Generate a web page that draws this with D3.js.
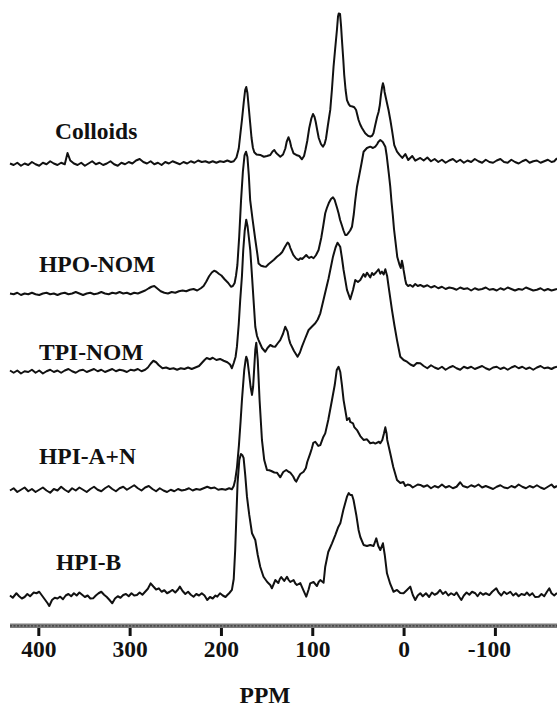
<!DOCTYPE html>
<html>
<head>
<meta charset="utf-8">
<script src="https://cdn.jsdelivr.net/npm/d3@7"></script>
<style>
  html, body { margin: 0; padding: 0; background: #fff; }
  svg { display: block; }
</style>
</head>
<body>
<svg id="chart" width="557" height="707"></svg>
<script>
// Stacked 13C NMR spectra: chemical shift (ppm) vs. relative intensity (a.u.)

const sampleNames = ["Colloids", "HPO-NOM", "TPI-NOM", "HPI-A+N", "HPI-B"];
const tickValues = [400, 300, 200, 100, 0, -100];
const axisTitle = "PPM";

const colloids = [
  [431,-1],[427,-2],[423,-0.5],[419,-2.5],[415,-1],[411,-2],[407,0],[403,-1.5],[399,-2.5],[395,-0.5],
  [391,-1.5],[387,0.5],[383,-1],[379,-2],[375,-0.5],[371,-1.5],[368,6],[365,1],[361,-1],[357,-2],
  [353,-0.5],[349,-2.5],[345,-1],[341,0.5],[337,-1.5],[333,-0.5],[329,-2],[325,-1],[321,0.5],[317,-1.5],
  [313,-2.5],[309,-0.5],[305,-1.5],[301,0],[297,-1],[293,1],[289,2],[285,0],[281,-1],[277,0.5],
  [273,-1.5],[269,-0.5],[265,-2],[261,0],[257,-1],[253,0.5],[249,-0.5],[245,-1.5],[241,0],[237,-1],
  [233,0.5],[229,-0.5],[225,1],[221,0],[217,0.5],[213,-0.5],[209,0.5],[205,-0.5],[201,0.5],[197,0],
  [193,1],[189,0],[186,0.5],
  [183,3],[180.5,9],[178.5,20],[177,28],[175,40],[173.5,48],[172.3,50],[171,46],[169.5,36],[168,26],
  [166.5,16],[165,9.5],[163.5,6.5],[161,5],[157,4.7],[153,3.5],[149.6,4],[146,4.7],[143.5,7],[141.6,8],
  [139.5,6],[138.3,5.3],[135,3.5],[132,5],[129.5,9],[128,13.5],[126,16.5],[124.5,14],[123,10],[120.5,5.8],
  [117.5,4.7],[114.2,4],[111.3,1.8],[109,4],[107.5,8],[105.5,14],[103.3,22.7],[101,29],[99.2,32],[97.5,30],
  [96.2,26.7],[94.5,21],[92.9,16],[90.5,12],[88.3,10.2],[86.5,12],[85,15.5],[83,24],[81.5,30],[80.3,34.7],
  [78.5,48],[76.7,63.5],[75,75],[73,88],[71.8,97],[71,99],[69.6,98.7],[68.5,91],[67.5,81.3],[66,68],
  [65,58],[63.5,48],[62,41.3],[60,38.5],[58.4,37.3],[56,37],[54,36.5],[52,34.7],[49.3,28],[47.5,25],
  [45.6,22.7],[42,19.1],[39,17.5],[36.5,16.9],[34.5,17.5],[33,19.1],[31,24.7],[29,30],[27.4,33.3],[26,38],
  [24.8,44.7],[23.5,50],[22.6,52.5],[21.5,50],[20.8,46.7],[18.2,39.3],[16.5,34.7],[14.5,28],[12.7,21.3],[10.2,11.3],
  [7.2,6.9],[4.4,4.7],[1.4,2.7],[-1.9,5.3],[-5.1,1.3],[-9.5,4],[-12.8,0.9],[-18.3,2.7],
  [-22,1],[-26,3],[-30,0.5],[-34,2],[-38,0],[-42,1.5],[-46,-0.5],[-50,1],[-54,2],[-58,0],
  [-62,1.5],[-66,-0.5],[-70,1],[-74,0],[-78,2],[-82,0.5],[-86,-0.5],[-90,1.5],[-94,0],[-98,-0.5],
  [-102,1],[-106,2],[-110,0],[-114,-0.5],[-118,1.5],[-122,0],[-126,-1],[-130,0.5],[-134,1.5],[-138,-0.5],
  [-142,0.5],[-146,1],[-150,-0.5],[-154,0.5],[-158,1.5],[-162,0],[-165,0.5],[-168,2.5]
];

const hpoNom = [
  [431,-3],[427,-3.5],[423,-2.5],[419,-4],[415,-3],[411,-3.5],[407,-2.5],[403,-3.5],[399,-4],[395,-3],
  [391,-2.5],[387,-3.5],[383,-3],[379,-4],[375,-3],[371,-2.5],[367,-3.5],[363,-3],[359,-2],[355,-3],
  [351,-4],[347,-3],[343,-2.5],[339,-3.5],[335,-3],[331,-2],[327,-3],[323,-3.5],[319,-2.5],[315,-3],
  [311,-2],[307,-3],[303,-2.5],[299,-3.5],[295,-2.5],[291,-3],[287,-2],[283,-1],[279,0.5],[276,1.5],
  [273,2],[270,0.5],[266,-1.5],[262,-2.5],[258,-3],[254,-2],[250,-2.5],[246,-1.5],[242,-1],[238,-1.5],
  [234,-0.5],[230,0],[226,-1],[222,0.5],[219,2],[216,5],[213,8.5],[210,11],[207.5,12.2],[205,11.5],
  [202,10],[199.5,9],[196,6.5],[192,4],[189,1.5],[187,2],
  [185,4],[183.5,9],[182,16],[180,35],[178,59],[176,78],[174.2,89],[172.5,91.5],[171,88],[169.5,76],
  [168,59.3],[165.5,47],[162.4,33],[160,22.7],[158.8,17],[156,15.5],[153,15],[150.5,14.9],[148,16.5],[145,18],
  [142,19.5],[138.7,21.5],[135.5,23],[132.9,24.7],[130,28],[127,31],[125.5,30],[124,27.3],[120.8,22.7],[118,20.5],
  [115,19.3],[113,20.5],[111,20],[108.5,21.5],[106.6,22.7],[105,21.5],[103.3,20.7],[101,21.5],[98.6,20.5],[96,22.5],
  [93.1,26],[90.2,34],[88,42],[85.8,50.5],[84,54],[81.9,57.3],[79.5,60],[77.3,61.1],[75.5,59.5],[74.8,58],
  [72.8,54],[71.2,50.5],[69.5,46],[67.7,42.7],[65.8,39],[63.9,36],[62.2,36],[60.6,37.3],[58.5,39],[56.5,41.5],
  [54.5,50],[52.9,59.3],[51,68.2],[48.5,76],[46,84],[43.8,91.5],[40.1,94],[36.5,94.9],[33.5,94],[31,94.9],
  [29,96.5],[27.7,98],[25.5,99.3],[22.8,98],[20,94.9],[18.5,89],[17.3,82.7],[16,76],[14.6,68.2],[13.2,58],
  [11.8,49.3],[10.5,40],[9.1,32.7],[6.9,21.3],[4.4,16],[3.1,14],[1.8,18.9],[0.5,15],[0,12.7],[-1.9,6],
  [-2.9,3.3],[-5,2],[-7.3,2.7],[-10,1.5],[-12.8,3.3],[-15.5,2],[-18.3,2.7],
  [-22,1.5],[-26,2.5],[-30,1],[-34,2],[-38,0.5],[-42,1.5],[-46,0],[-50,1],[-54,0.5],[-58,-0.5],
  [-62,1],[-66,0],[-70,0.5],[-74,-1],[-78,0.5],[-82,-0.5],[-86,0],[-90,1],[-94,-0.5],[-98,0],
  [-102,-1],[-106,0.5],[-110,-0.5],[-114,1],[-118,0],[-122,-1],[-126,0],[-130,-0.5],[-134,1],[-138,0],
  [-142,-1],[-146,-0.5],[-150,0.5],[-154,-1],[-158,0],[-162,-1],[-165,-0.5],[-168,0]
];

const tpiNom = [
  [431,-3],[427,-4.5],[423,-3],[419,-5],[415,-3.5],[411,-4],[407,-2.5],[403,-4.5],[399,-3],[395,-5],
  [391,-3.5],[387,-2.5],[383,-4],[379,-3],[375,-4.5],[371,-3],[367,-2],[363,-3.5],[359,-4.5],[355,-3],
  [351,-2.5],[347,-4],[343,-3],[339,-2],[335,-3.5],[331,-2.5],[327,-4],[323,-3],[319,-2],[315,-3.5],
  [311,-2.5],[307,-3],[303,-4],[299,-2.5],[295,-3],[291,-2],[287,-3.5],[283,-2.5],[280,-1],[277,1.5],
  [274,3.5],[271,2.5],[268,0.5],[264,-1.5],[260,-1],[256,-2],[252,-1.5],[248,-2.5],[244,-1.5],[240,-2],
  [236,-1],[232,-2],[228,-1],[224,0],[221,2],[218,4],[215.6,5.3],[212,4.5],[209,5.5],[205,4],
  [201,4.7],[197,3.5],[193,2.5],[190,1],[188,-1.5],[186,2],
  [184,6],[182.5,12.9],[180.5,28],[178.9,44],[177,60],[175.6,77],[174,90],[172.3,97.5],[170.8,93],[169.5,86],
  [167.9,77.3],[166,60],[164.3,44],[162.4,26.2],[160.5,20],[158.8,17.3],[155,12],[151.5,9.5],[149,12],[146,14],
  [143,13],[140.5,12.9],[138,15],[135.1,17.3],[132,21.5],[129.6,26.2],[127,22.9],[125.5,18],[124.1,15.1],[120,10],
  [116.1,6.2],[113.5,9],[111.3,12.9],[108,18],[104,24],[100,26.5],[96.7,28.5],[94,31],[91.2,35.1],[86.9,46.2],
  [82.1,58.5],[77.3,72.9],[74.5,79],[72.3,82.2],[69.4,79.5],[67.5,72],[65.7,64],[62,50.7],[58.4,44.5],[55.4,50.7],
  [52.9,57.3],[50,56],[47.4,57.3],[43.8,61.3],[42,59.5],[40.1,62.2],[36.5,59.1],[34.5,62],[32.9,60.7],[30,62.5],
  [27.4,64.5],[25.5,61.5],[23.7,62.9],[21.8,61],[20,64.5],[18,60],[16.4,52.9],[12.7,37.3],[10,27],[7.2,17.3],
  [3.6,6.2],[0,4],[-3.7,2.9],[-7.5,1],[-11,0],[-14.5,2],[-18.3,1.8],
  [-22,0],[-26,-1.5],[-30,0.5],[-34,-1],[-38,-2],[-42,-0.5],[-46,-2.5],[-50,-1],[-54,0],[-58,-1.5],
  [-62,-2.5],[-66,-0.5],[-70,-1.5],[-74,-0.5],[-78,-2],[-82,-1],[-86,0],[-90,-1.5],[-94,-2.5],[-98,-1],
  [-102,-0.5],[-106,-2],[-110,-1],[-114,-2.5],[-118,-1],[-122,0],[-126,-1.5],[-130,-0.5],[-134,-2],[-138,-1],
  [-142,-2.5],[-146,-1],[-150,0],[-154,-1.5],[-158,-1],[-162,-2],[-165,-1],[-168,-0.5]
];

const hpiAN = [
  [431,-1],[427,0.5],[423,-2],[419,-0.5],[415,1],[411,-1.5],[407,0],[403,-2],[399,-0.5],[395,1],
  [391,-1],[387,-2.5],[383,0],[379,-1],[375,1.5],[371,-0.5],[367,-2],[363,0.5],[359,-1],[355,1],
  [351,-0.5],[347,-2],[343,0],[339,1.5],[335,-0.5],[331,-1.5],[327,0.5],[323,2],[319,0],[315,-1.5],
  [311,0.5],[307,1.5],[303,-0.5],[299,1],[295,2.5],[291,0.5],[287,-1],[283,1],[279,2],[275,0],
  [271,-1.5],[267,0.5],[263,-1],[259,-2],[255,-0.5],[251,-1.5],[247,0],[243,-1],[239,-0.5],[235,0.5],
  [231,-1],[227,0],[223,-0.5],[219,0.5],[215,1.5],[211,0.5],[207,1],[203,-0.5],[199,0],[195,-0.5],
  [191,0.5],[188,-0.2],[186,2],
  [184.4,6],[182.5,14],[180.3,29.3],[178.5,45],[177,59.3],[174.5,79.3],[173,86],[172.3,88.2],[171,86],[169,76],
  [167.5,68],[166,62.7],[164.8,68],[164,76],[162.4,92.7],[161.3,97.5],[159.7,86],[157.7,59.3],[155.1,32.7],[152.6,19.3],
  [149.6,12.7],[147,12.5],[144.9,12],[141.5,11],[138.7,10.9],[135,7.8],[131.8,11.3],[128.5,12.7],[126,11.5],[124.1,10.9],
  [121,8.5],[119,6],[117.5,4.9],[115,8],[113.1,10],[109.5,11.5],[107,14],[105.5,18],[102.2,23.8],[100.5,27],
  [98.9,30.7],[96.7,31.5],[93.4,28.7],[91.2,29.3],[87.9,34.7],[85.8,37.1],[82.5,46],[78.4,59.3],[75.4,69.3],[73.2,79.3],
  [71.2,81.5],[69.3,78],[67.5,69.3],[65.7,59.3],[62,46],[59.5,47.3],[58.4,44.7],[55.4,43.8],[54,41.3],[51,39.3],
  [47.4,35.3],[43.8,32.7],[40.1,33.1],[36.5,30.5],[33,31],[31,30.3],[27,31.5],[25.5,30.5],[23.3,32.7],[21.5,37],
  [20,41.1],[18.6,37],[17.9,32.7],[14.6,23.8],[11.3,14.7],[7.2,6],[3.6,4],[0.3,4.7],[-1.9,2],[-4.5,3],
  [-7.3,2.5],[-10,1],[-12.8,2],[-15.5,3],[-18.3,2.7],
  [-22,1.5],[-26,2.5],[-30,0.5],[-34,2],[-38,1],[-42,3],[-46,1],[-50,2],[-54,0.5],[-58,1.5],
  [-62,4.5],[-65,2],[-70,1],[-74,2.5],[-78,1.5],[-82,3],[-86,1],[-90,2],[-94,1],[-98,0],
  [-102,1.5],[-106,2.5],[-110,1],[-114,0.5],[-118,2],[-122,1],[-126,3],[-130,1.5],[-134,0.5],[-138,2],
  [-142,1],[-146,2.5],[-150,1],[-154,0],[-158,1.5],[-162,3],[-165,1],[-168,2]
];

const hpiB = [
  [431,-1],[428,-2.5],[424,0.5],[421,-1.5],[418,-3],[415,-2],[412,0],[409,-1.5],[405,1],[402,0.5],
  [399,1.5],[396,-1],[393,-3.5],[390,-6],[388,-8],[385,-4],[382,-2.5],[379,-3],[376,-1.8],[373,-3.5],
  [370,-1],[367,0],[364,-1.5],[361,0.5],[358,-1],[355,1],[352,-0.5],[349,-2],[346,-1],[343,-3],
  [340,-2.9],[337,-1],[334,0.5],[331,1.5],[328,-0.5],[325,-2],[322,-4],[319,-6.2],[316,-3],[313,-1.5],
  [310,-2.5],[307,-0.7],[304,0],[301,-1.5],[298,0.5],[295,-1],[292,-0.7],[289,1],[286,-0.5],[283,1.5],
  [280,3.5],[277,7.1],[274,5],[271,3],[268,3.8],[265,1.5],[262,2.5],[259,0.5],[256,1.5],[253,2.7],
  [250,1],[247,3],[245,4.9],[242,2],[239,0],[236,1.5],[233,-0.5],[230,-1.8],[227,0],[224,-1],
  [221,0.5],[218,-1],[215,-4],[212,-2],[209,-3],[206,-1],[204,-1.8],[201,0.5],[198,-1],[195,-2],
  [193,-0.7],[191,0.5],[188,2.7],[186,10],
  [184.4,29.3],[181.8,74],[179.9,89.3],[178.1,93.3],[176.7,92.7],[175.2,90.7],[173.4,79.3],[171.5,64.9],[169,52.7],[166,40.5],
  [164,38],[162.4,36],[159.7,26],[157,18.2],[153.4,11.5],[149.3,8],[146,6],[144.2,3.8],[142,7],[140.5,9.3],
  [137.2,7.3],[135.5,10],[134,11.3],[130.7,8.7],[127.7,11.5],[126,9.5],[124.1,8],[120.5,9.3],[118.5,7],[116.8,6],
  [113.1,7.3],[109.9,2.7],[106.6,-1.8],[104,3],[102.2,7.1],[98.6,8],[94.9,5.3],[93,8],[91.2,9.3],[87.6,7.5],
  [85.8,18.2],[82.5,28],[78.4,33.8],[74.8,39.3],[71.5,44.7],[69.3,47.1],[66,56],[62,64.9],[60,67.3],[58.4,66],
  [56.5,66],[54.8,62.7],[51.8,52.7],[49.3,42.7],[47.4,38],[43.8,32.7],[40.1,32],[36.5,32.7],[32.9,32],[29.9,37.1],
  [27.7,32],[25.5,29.3],[22.6,33.8],[20.6,26],[18.2,13.8],[14.6,6.7],[11,1.5],[7.2,2.7],[3.6,0.7],[0,0.5],
  [-3.7,2.7],[-7.3,4.9],[-10.1,-0.7],[-12.8,-4],[-15.5,-1],[-18.3,0.5],
  [-21,-1.5],[-24.5,0.5],[-28,-2],[-31,1],[-34,-0.5],[-37,0.5],[-40,2.7],[-43,0],[-46,1.5],[-49,-1],
  [-52,0.5],[-55.5,-0.7],[-58,1],[-61,-2],[-63.2,-4],[-66,-1],[-69,1],[-72,-0.5],[-75,1.5],[-78.5,0.5],
  [-81,-1.5],[-84,1],[-87,-0.5],[-90,0.5],[-93.9,-0.7],[-97,1.5],[-101.5,3.8],[-104,1],[-107,-1],[-110,1.5],
  [-113,0],[-116.9,1.5],[-120,-1],[-123,0.5],[-126,-1.5],[-129,0],[-132.5,-0.7],[-135,1],[-138,-1],[-141,0.5],
  [-144,-2],[-148,-1.8],[-151,0],[-154,-1.5],[-157,1.5],[-159.6,3.8],[-162,0.5],[-165,-1],[-168,0.7]
];

const spectra = [colloids, hpoNom, tpiNom, hpiAN, hpiB];

// ---- layout ----
const W = 557, H = 707;
const svg = d3.select("#chart").attr("width", W).attr("height", H);
const serif = "'Liberation Serif', 'Times New Roman', 'DejaVu Serif', serif";

// x: chemical shift, high ppm on the left
const x = d3.scaleLinear().domain([431, -168]).range([10, 557]);
// intensity -> vertical pixels above each trace's baseline
const h = d3.scaleLinear().domain([0, 100]).range([0, 150]);

// baseline y of each trace and label anchor
const rows = [
  { base: 162, lx: 55, ly: 138.5 },
  { base: 289, lx: 39, ly: 271.5 },
  { base: 366, lx: 39, ly: 360 },
  { base: 489, lx: 39, ly: 463.5 },
  { base: 594, lx: 56, ly: 570 }
];

const gTraces = svg.append("g");
spectra.forEach((data, i) => {
  const base = rows[i].base;
  const line = d3.line()
    .x(d => x(d[0]))
    .y(d => base - h(d[1]))
    .curve(d3.curveLinear);
  gTraces.append("path")
    .datum(data)
    .attr("d", line)
    .attr("fill", "none")
    .attr("stroke", "#111")
    .attr("stroke-width", 2)
    .attr("stroke-linejoin", "round");
});

// sample labels
svg.append("g").selectAll("text")
  .data(sampleNames)
  .join("text")
  .attr("x", (d, i) => rows[i].lx)
  .attr("y", (d, i) => rows[i].ly)
  .attr("font-family", serif)
  .attr("font-weight", "bold")
  .attr("font-size", 23.5)
  .attr("fill", "#111")
  .text(d => d);

// shaded axis band
const axisY = 628;
svg.append("rect")
  .attr("x", 10).attr("y", axisY - 4.5)
  .attr("width", 547).attr("height", 4.5)
  .attr("fill", "#7c7c7c");
svg.append("line")
  .attr("x1", 10).attr("x2", 557)
  .attr("y1", axisY - 2.2).attr("y2", axisY - 2.2)
  .attr("stroke", "#3a3a3a")
  .attr("stroke-width", 1.2)
  .attr("stroke-dasharray", "2,1.5");

// ticks and labels
const axis = d3.axisBottom(x)
  .tickValues(tickValues)
  .tickSize(8)
  .tickFormat(d => String(d));
const gAxis = svg.append("g")
  .attr("transform", `translate(0,${axisY})`)
  .call(axis);
gAxis.select(".domain").remove();
gAxis.selectAll(".tick line")
  .attr("stroke", "#111")
  .attr("stroke-width", 3);
gAxis.selectAll(".tick text")
  .attr("y", 29)
  .attr("dy", 0)
  .attr("dx", d => d < 0 ? -6 : 0)
  .attr("font-family", serif)
  .attr("font-weight", "bold")
  .attr("font-size", 23.5)
  .attr("fill", "#111");

// axis title
svg.append("text")
  .attr("x", 265)
  .attr("y", 703)
  .attr("text-anchor", "middle")
  .attr("font-family", serif)
  .attr("font-weight", "bold")
  .attr("font-size", 23.5)
  .attr("fill", "#111")
  .text(axisTitle);
</script>
</body>
</html>
